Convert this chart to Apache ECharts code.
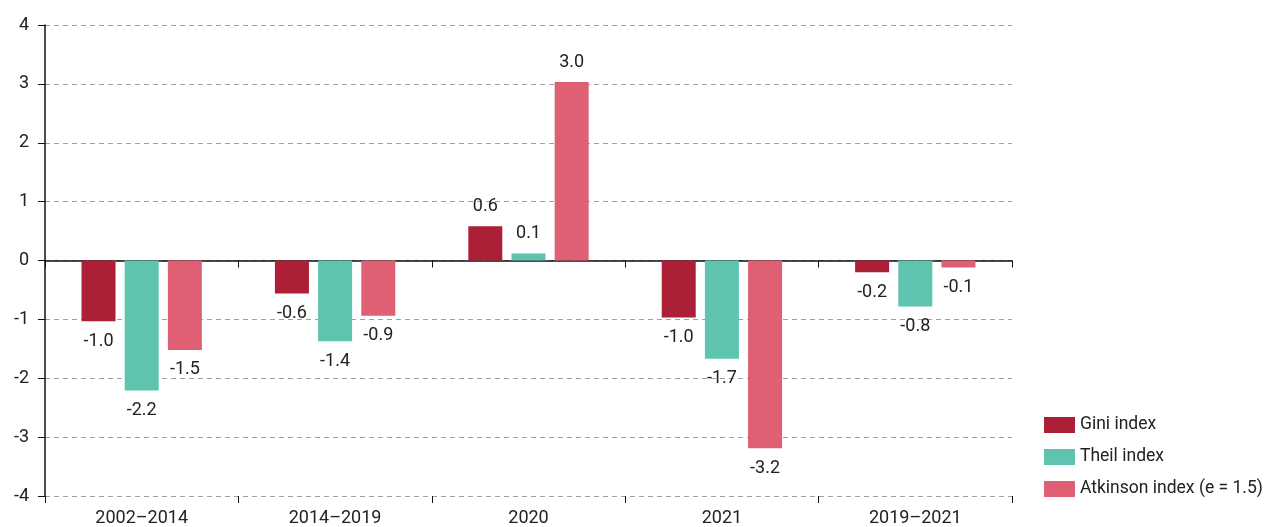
<!DOCTYPE html>
<html>
<head>
<meta charset="utf-8">
<script src="https://cdn.jsdelivr.net/npm/echarts@6/dist/echarts.min.js"></script>
<style>html,body{margin:0;padding:0;background:#fff;}#c{width:1265px;height:527px;}</style>
</head>
<body>
<div id="c"></div>
<script>
const categories = ['2002–2014', '2014–2019', '2020', '2021', '2019–2021'];
const seriesNames = ['Gini index', 'Theil index', 'Atkinson index (e = 1.5)'];
const gini = [-1.03, -0.56, 0.58, -0.97, -0.20];
const theil = [-2.21, -1.37, 0.12, -1.67, -0.78];
const atkinson = [-1.52, -0.94, 3.03, -3.19, -0.12];
const yTicks = [-4, -3, -2, -1, 0, 1, 2, 3, 4];

const FONT = 'Roboto, "Noto Sans", sans-serif';
const colors = ['#AD1F36', '#5EC4B0', '#DF5F74'];
const chart = echarts.init(document.getElementById('c'));

function mk(name, data, color) {
  return {
    name: name, type: 'bar', xAxisIndex: 0, yAxisIndex: 0,
    data: data.map(v => ({
      value: v,
      label: { position: v >= 0 ? 'top' : 'bottom' }
    })),
    barWidth: 34, barGap: '27%',
    itemStyle: { color: color },
    label: {
      show: true, distance: 11, color: '#222', fontFamily: FONT, fontSize: 18,
      formatter: p => p.value.toFixed(1)
    }
  };
}

chart.setOption({
  animation: false,
  textStyle: { fontFamily: FONT },
  grid: { left: 45, right: 253, top: 25, bottom: 31, containLabel: false },
  legend: {
    orient: 'vertical', left: 1044, top: 416, padding: 0,
    itemWidth: 31, itemHeight: 16, itemGap: 14, icon: 'rect',
    textStyle: { fontFamily: FONT, fontSize: 17.5, lineHeight: 18, color: '#222' },
    data: seriesNames
  },
  xAxis: [
    {
      type: 'category', data: categories,
      axisLine: { show: true, onZero: true, lineStyle: { color: '#111', width: 1.5 } },
      axisTick: { show: true, length: 7, lineStyle: { color: '#111' } },
      axisLabel: { show: false },
      splitLine: { show: false }
    },
    {
      type: 'category', data: categories, position: 'bottom',
      axisLine: { show: false, onZero: false },
      axisTick: { show: true, length: 7, lineStyle: { color: '#111' } },
      axisLabel: { show: true, margin: 13, fontFamily: FONT, fontSize: 18, color: '#222' },
      splitLine: { show: false }
    }
  ],
  yAxis: {
    type: 'value', min: -4, max: 4, interval: 1,
    axisLine: { show: true, lineStyle: { color: '#111', width: 1.5 } },
    axisTick: { show: true, length: 7, lineStyle: { color: '#111' } },
    axisLabel: { margin: 16, fontFamily: FONT, fontSize: 18, color: '#222',
      formatter: v => yTicks.includes(v) ? String(v) : '' },
    splitLine: { show: true, lineStyle: { color: '#a0a0a0', type: [5, 4], width: 1 } }
  },
  series: [
    mk(seriesNames[0], gini, colors[0]),
    mk(seriesNames[1], theil, colors[1]),
    mk(seriesNames[2], atkinson, colors[2])
  ]
});
</script>
</body>
</html>
